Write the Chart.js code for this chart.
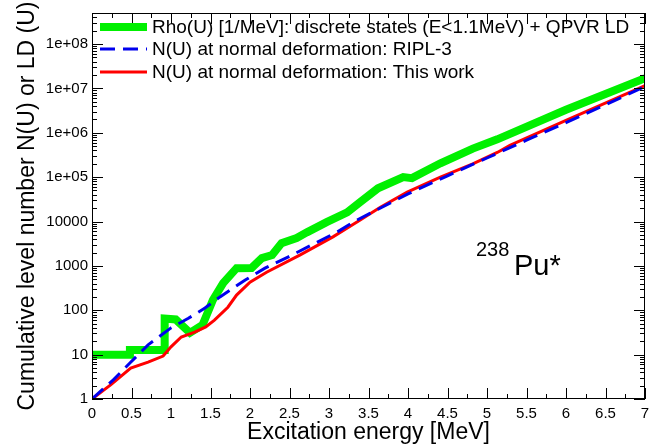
<!DOCTYPE html>
<html>
<head>
<meta charset="utf-8">
<script src="https://cdn.jsdelivr.net/npm/chart.js@4.4.1/dist/chart.umd.min.js"></script>
<style>
  body { margin: 0; background: #fff; }
  canvas { display: block; }
</style>
</head>
<body>
<canvas id="ldChart" width="671" height="448"></canvas>
<script>
// --- values (energy in MeV, counts) ---
const rhoE = [0, 0.48, 0.48, 0.92, 0.92, 1.06, 1.24, 1.4, 1.53, 1.66, 1.83, 2.02, 2.15, 2.28, 2.4, 2.59, 2.72, 2.97, 3.23, 3.39, 3.62, 3.94, 4.05, 4.41, 4.82, 5.13, 6.0, 7.0];
const rhoN = [10, 10, 12.7, 12.7, 65, 62, 31, 47, 170, 410, 890, 900, 1500, 1750, 3260, 4250, 5700, 9700, 16000, 27000, 56000, 100000, 95000, 205000, 440000, 710000, 3300000, 17000000];

const riplE = [0, 0.27, 0.48, 0.71, 1.0, 1.22, 1.43, 1.62, 1.94, 2.19, 2.48, 2.78, 3.1, 3.35, 4.0, 4.5, 5.0, 5.5, 6.0, 6.5, 7.0];
const riplN = [1, 2.7, 6.5, 16.6, 40, 66, 112, 200, 480, 890, 1580, 2950, 5750, 10700, 42000, 107000, 270000, 680000, 1700000, 4300000, 11000000];

const workE = [0, 0.24, 0.49, 0.71, 0.9, 1.0, 1.13, 1.3, 1.44, 1.55, 1.72, 1.83, 2.0, 2.21, 2.63, 3.05, 3.39, 3.65, 3.99, 4.41, 4.82, 5.13, 5.29, 6.0, 7.0];
const workN = [1, 2.1, 5, 6.8, 9.3, 15, 25, 32, 42, 60, 117, 220, 430, 720, 1750, 4500, 10700, 21000, 46000, 100000, 200000, 360000, 520000, 1900000, 11500000];

const seriesLabels = [
    'Rho(U) [1/MeV]: discrete states (E<1.1MeV) + QPVR LD',
    'N(U) at normal deformation: RIPL-3',
    'N(U) at normal deformation: This work'
];

const yTicks = [1, 10, 100, 1000, 10000, 1e5, 1e6, 1e7, 1e8];
const yTickLabels = ['1', '10', '100', '1000', '10000', '1e+05', '1e+06', '1e+07', '1e+08'];

const FONT = '"Liberation Sans", Arial, sans-serif';

function toPoints(xs, ys) {
    return xs.map((x, i) => ({ x: x, y: ys[i] }));
}

// ROOT-like decorations: closed frame, inward ticks on all sides, legend, titles
const rootStyle = {
    id: 'rootStyle',
    afterDatasetsDraw(chart) {
        const { ctx, chartArea: a, scales: { x, y } } = chart;
        ctx.save();
        ctx.strokeStyle = '#000';
        ctx.lineWidth = 1;
        ctx.setLineDash([]);
        ctx.strokeRect(a.left + 0.5, a.top + 0.5, a.right - a.left - 1, a.bottom - a.top - 1);

        ctx.beginPath();
        for (let i = 0; i <= 28; i++) {
            const px = Math.round(x.getPixelForValue(i * 0.25)) + 0.5;
            const len = i % 2 === 0 ? 11 : 5;
            ctx.moveTo(px, a.bottom); ctx.lineTo(px, a.bottom - len);
            ctx.moveTo(px, a.top); ctx.lineTo(px, a.top + len);
        }
        for (let d = 0; d <= 8; d++) {
            for (let m = 1; m <= 9; m++) {
                const v = m * Math.pow(10, d);
                if (v > y.max) break;
                const py = Math.round(y.getPixelForValue(v)) + 0.5;
                const len = m === 1 ? 11 : 5;
                ctx.moveTo(a.left, py); ctx.lineTo(a.left + len, py);
                ctx.moveTo(a.right, py); ctx.lineTo(a.right - len, py);
            }
        }
        ctx.stroke();

        // legend inside the frame
        const rowsY = [27, 49, 72];
        chart.data.datasets.forEach((ds, i) => {
            ctx.beginPath();
            ctx.strokeStyle = ds.borderColor;
            ctx.lineWidth = ds.borderWidth;
            ctx.setLineDash(ds.borderDash || []);
            ctx.moveTo(100, rowsY[i]);
            ctx.lineTo(147, rowsY[i]);
            ctx.stroke();
            ctx.setLineDash([]);
            ctx.fillStyle = '#000';
            ctx.font = '19px ' + FONT;
            ctx.textBaseline = 'middle';
            ctx.textAlign = 'left';
            ctx.fillText(ds.label, 152, rowsY[i] + 1);
        });

        // axis titles
        ctx.fillStyle = '#000';
        ctx.font = '23px ' + FONT;
        ctx.textAlign = 'center';
        ctx.textBaseline = 'alphabetic';
        ctx.fillText('Excitation energy [MeV]', (a.left + a.right) / 2, 439);
        ctx.save();
        ctx.translate(34, (a.top + a.bottom) / 2);
        ctx.rotate(-Math.PI / 2);
        ctx.fillText('Cumulative level number N(U) or LD (U)', 0, 0);
        ctx.restore();

        // nucleus label
        ctx.textAlign = 'left';
        ctx.font = '20px ' + FONT;
        ctx.fillText('238', 476, 256);
        ctx.font = '29px ' + FONT;
        ctx.fillText('Pu*', 514, 275);
        ctx.restore();
    }
};

new Chart(document.getElementById('ldChart').getContext('2d'), {
    type: 'line',
    data: {
        datasets: [
            {
                label: seriesLabels[0],
                data: toPoints(rhoE, rhoN),
                borderColor: '#00f000',
                borderWidth: 8,
                order: 2
            },
            {
                label: seriesLabels[1],
                data: toPoints(riplE, riplN),
                borderColor: '#0000ee',
                borderWidth: 3,
                borderDash: [15, 8],
                order: 0
            },
            {
                label: seriesLabels[2],
                data: toPoints(workE, workN),
                borderColor: '#ff0000',
                borderWidth: 3,
                order: 1
            }
        ]
    },
    options: {
        responsive: false,
        animation: false,
        layout: { padding: { top: 13, right: 26, left: 0, bottom: 0 } },
        elements: {
            point: { radius: 0 },
            line: { tension: 0, fill: false }
        },
        plugins: {
            legend: { display: false },
            tooltip: { enabled: false }
        },
        scales: {
            x: {
                type: 'linear',
                min: 0,
                max: 7,
                grid: { display: false, drawTicks: false },
                border: { display: false },
                ticks: {
                    stepSize: 0.5,
                    autoSkip: false,
                    maxRotation: 0,
                    padding: 6,
                    color: '#000',
                    font: { family: FONT, size: 15 },
                    callback: v => String(v)
                },
                afterFit: s => { s.height = 49; }
            },
            y: {
                type: 'logarithmic',
                min: 1,
                max: 5e8,
                grid: { display: false, drawTicks: false },
                border: { display: false },
                afterBuildTicks: s => { s.ticks = yTicks.map(v => ({ value: v })); },
                ticks: {
                    autoSkip: false,
                    padding: 4,
                    color: '#000',
                    font: { family: FONT, size: 15 },
                    callback: v => {
                        const i = yTicks.indexOf(v);
                        return i >= 0 ? yTickLabels[i] : '';
                    }
                },
                afterFit: s => { s.width = 92; }
            }
        }
    },
    plugins: [rootStyle]
});
</script>
</body>
</html>
